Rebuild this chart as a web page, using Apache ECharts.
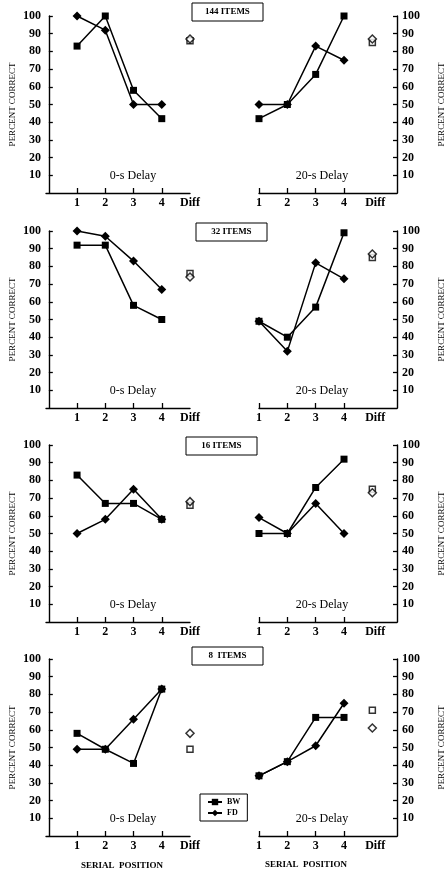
<!DOCTYPE html>
<html><head><meta charset="utf-8">
<script src="https://cdn.jsdelivr.net/npm/echarts@6/dist/echarts.min.js"></script>
<style>html,body{margin:0;padding:0;background:#fff}#c{width:448px;height:870px}</style>
</head><body><div id="c"></div>
<script>
// ---- data ----
const serialPositions = [1, 2, 3, 4];
const panelTitles = ['144 ITEMS', '32 ITEMS', '16 ITEMS', '8  ITEMS'];
const delayLabels = ['0-s Delay', '20-s Delay'];
const yTicks = [10, 20, 30, 40, 50, 60, 70, 80, 90, 100];

const bw144_0s = [83, 100, 58, 42];
const fd144_0s = [100, 92, 50, 50];
const bw144_20s = [42, 50, 67, 100];
const fd144_20s = [50, 50, 83, 75];
const diff144 = { bw0: 86, fd0: 87, bw20: 85, fd20: 87 };

const bw32_0s = [92, 92, 58, 50];
const fd32_0s = [100, 97, 83, 67];
const bw32_20s = [49, 40, 57, 99];
const fd32_20s = [49, 32, 82, 73];
const diff32 = { bw0: 76, fd0: 74, bw20: 85, fd20: 87 };

const bw16_0s = [83, 67, 67, 58];
const fd16_0s = [50, 58, 75, 58];
const bw16_20s = [50, 50, 76, 92];
const fd16_20s = [59, 50, 67, 50];
const diff16 = { bw0: 66, fd0: 68, bw20: 75, fd20: 73 };

const bw8_0s = [58, 49, 41, 83];
const fd8_0s = [49, 49, 66, 83];
const bw8_20s = [34, 42, 67, 67];
const fd8_20s = [34, 42, 51, 75];
const diff8 = { bw0: 49, fd0: 58, bw20: 71, fd20: 61 };

const panelData = [
  [bw144_0s, fd144_0s, bw144_20s, fd144_20s, diff144],
  [bw32_0s, fd32_0s, bw32_20s, fd32_20s, diff32],
  [bw16_0s, fd16_0s, bw16_20s, fd16_20s, diff16],
  [bw8_0s, fd8_0s, bw8_20s, fd8_20s, diff8]
];
const DIFF_X = 5;

// ---- layout ----
const FONT = '"Liberation Serif", "DejaVu Serif", serif';
const tops = [16, 231, 445, 659];
const H = 177;
const leftG = { left: 46, width: 144 };
const rightG = { left: 259, width: 138 };

const grids = [], xAxes = [], yAxes = [], series = [], graphics = [];
const axisLine = { show: true, lineStyle: { color: '#000', width: 1.4 } };
const tickLabel = { color: '#000', fontFamily: FONT, fontWeight: 'bold', fontSize: 12 };

panelData.forEach((pd, p) => {
  [0, 1].forEach(d => {
    const g = p * 2 + d;
    const geo = d === 0 ? leftG : rightG;
    grids.push({ left: geo.left, width: geo.width, top: tops[p], height: H, containLabel: false });
    xAxes.push({
      type: 'value', gridIndex: g,
      min: d === 0 ? -0.1 : 1, max: d === 0 ? 5 : 5.87,
      axisLine: axisLine,
      splitLine: { show: false },
      axisTick: { show: true, inside: true, length: 5, lineStyle: { color: '#000', width: 1.3 }, customValues: serialPositions },
      axisLabel: Object.assign({}, tickLabel, {
        margin: 4,
        customValues: serialPositions.concat([d === 0 ? 5 : 5.1]),
        formatter: v => (v >= 5 ? 'Diff' : String(v))
      })
    });
    yAxes.push({
      type: 'value', gridIndex: g, min: 0, max: 100, interval: 10,
      position: d === 0 ? 'left' : 'right',
      axisLine: axisLine,
      splitLine: { show: false },
      axisTick: { show: true, inside: true, length: 4, lineStyle: { color: '#000', width: 1.3 }, customValues: yTicks },
      axisLabel: Object.assign({}, tickLabel, { margin: 5, customValues: yTicks }),
      name: 'PERCENT CORRECT', nameLocation: 'middle', nameRotate: 90,
      nameGap: d === 0 ? 29 : 40,
      nameTextStyle: { color: '#000', fontFamily: FONT, fontSize: 9 }
    });
    const bw = d === 0 ? pd[0] : pd[2];
    const fd = d === 0 ? pd[1] : pd[3];
    const diff = pd[4];
    const lineCommon = {
      type: 'line', xAxisIndex: g, yAxisIndex: g, animation: false,
      lineStyle: { color: '#000', width: 1.5 }, itemStyle: { color: '#000' },
      showAllSymbol: true
    };
    series.push(Object.assign({}, lineCommon, {
      name: 'BW', symbol: 'rect', symbolSize: 7,
      data: serialPositions.map((x, i) => [x, bw[i]])
    }));
    series.push(Object.assign({}, lineCommon, {
      name: 'FD', symbol: 'diamond', symbolSize: 9,
      data: serialPositions.map((x, i) => [x, fd[i]])
    }));
    series.push({
      type: 'scatter', name: 'BW diff', xAxisIndex: g, yAxisIndex: g, animation: false,
      symbol: 'rect', symbolSize: 6,
      itemStyle: { color: '#fff', borderColor: '#000', borderWidth: 1.5 },
      data: [[DIFF_X, d === 0 ? diff.bw0 : diff.bw20]]
    });
    series.push({
      type: 'scatter', name: 'FD diff', xAxisIndex: g, yAxisIndex: g, animation: false,
      symbol: 'diamond', symbolSize: 8,
      itemStyle: { color: '#fff', borderColor: '#000', borderWidth: 1.5 },
      data: [[DIFF_X, d === 0 ? diff.fd0 : diff.fd20]]
    });
    graphics.push({
      type: 'text',
      x: d === 0 ? 133 : 322, y: tops[p] + 160,
      style: { text: delayLabels[d], fill: '#000', font: '12px ' + FONT, textAlign: 'center', textVerticalAlign: 'middle' }
    });
  });
  const boxLeft = [192, 196, 186, 192][p];
  const boxTop = [3, 223, 437, 647][p];
  graphics.push({
    type: 'rect', shape: { x: boxLeft, y: boxTop, width: 71, height: 18 },
    style: { fill: '#fff', stroke: '#000', lineWidth: 1 }
  });
  graphics.push({
    type: 'text', x: boxLeft + 35.5, y: boxTop + 9,
    style: { text: panelTitles[p], fill: '#000', font: 'bold 9px ' + FONT, textAlign: 'center', textVerticalAlign: 'middle' }
  });
});

graphics.push({
  type: 'text', x: 122, y: 866,
  style: { text: 'SERIAL  POSITION', fill: '#000', font: 'bold 9px ' + FONT, textAlign: 'center', textVerticalAlign: 'middle' }
});
graphics.push({
  type: 'text', x: 306, y: 865,
  style: { text: 'SERIAL  POSITION', fill: '#000', font: 'bold 9px ' + FONT, textAlign: 'center', textVerticalAlign: 'middle' }
});

const chart = echarts.init(document.getElementById('c'), null, { renderer: 'canvas' });
chart.setOption({
  animation: false,
  backgroundColor: '#fff',
  grid: grids,
  xAxis: xAxes,
  yAxis: yAxes,
  series: series,
  legend: {
    data: ['BW', 'FD'], orient: 'vertical', left: 200, top: 794,
    padding: [4, 7], itemGap: 3, itemWidth: 14, itemHeight: 8,
    borderColor: '#000', borderWidth: 1, backgroundColor: '#fff',
    textStyle: { color: '#000', fontFamily: FONT, fontWeight: 'bold', fontSize: 8 },
    selectedMode: false
  },
  graphic: graphics
});
</script></body></html>
